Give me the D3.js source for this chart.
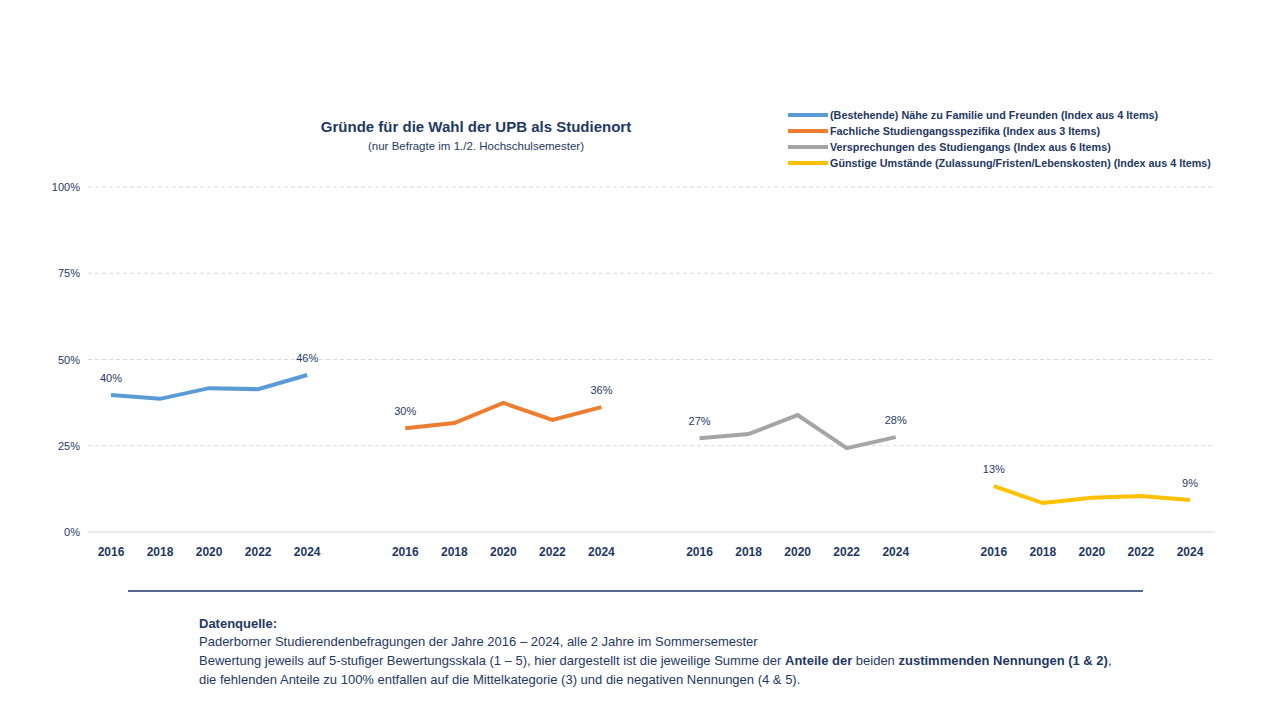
<!DOCTYPE html>
<html><head><meta charset="utf-8">
<script src="https://cdn.jsdelivr.net/npm/d3@7"></script>
<style>body{margin:0;background:#fff;font-family:"Liberation Sans",Arial,sans-serif}</style>
</head><body>
<svg id="chart" width="1273" height="717"></svg>
<script>
var years = ["2016", "2018", "2020", "2022", "2024"];
var seriesNames = [
  "(Bestehende) Nähe zu Familie und Freunden (Index aus 4 Items)",
  "Fachliche Studiengangsspezifika (Index aus 3 Items)",
  "Versprechungen des Studiengangs (Index aus 6  Items)",
  "Günstige Umstände (Zulassung/Fristen/Lebenskosten) (Index aus 4 Items)"
];
var colors = ["#5b9bd5", "#ed7d31", "#a5a5a5", "#ffc000"];
var naehe = [39.7, 38.6, 41.7, 41.4, 45.5];
var fachlich = [30.1, 31.6, 37.4, 32.5, 36.2];
var versprechen = [27.2, 28.4, 33.9, 24.3, 27.5];
var umstaende = [13.3, 8.4, 9.9, 10.4, 9.3];
var yTicks = [0, 25, 50, 75, 100];
var allSeries = [naehe, fachlich, versprechen, umstaende];

var navy = "#1f3864";
var svg = d3.select("#chart");

// 23 slots: 4 groups of 5 years with one empty slot between groups
var slots = [];
allSeries.forEach(function (s, g) {
  years.forEach(function (y) { slots.push(g + "-" + y); });
  if (g < 3) slots.push("gap" + g);
});
var x = d3.scalePoint().domain(slots).range([111, 1190]);
var y = d3.scaleLinear().domain([0, 100]).range([532, 187]);

// gridlines
svg.append("g").selectAll("line").data(yTicks.slice(1)).join("line")
  .attr("x1", 88).attr("x2", 1215).attr("y1", y).attr("y2", y)
  .attr("stroke", "#d9d9d9").attr("stroke-dasharray", "4,3");
svg.append("line").attr("x1", 88).attr("x2", 1215).attr("y1", y(0)).attr("y2", y(0))
  .attr("stroke", "#d9d9d9");
svg.append("g").selectAll("text").data(yTicks).join("text")
  .attr("x", 80).attr("y", function (d) { return y(d) + 4; })
  .attr("text-anchor", "end").attr("font-size", 11).attr("fill", navy)
  .text(function (d) { return d + "%"; });

// x labels
svg.append("g").selectAll("text").data(slots.filter(function (s) { return s.indexOf("gap") < 0; })).join("text")
  .attr("x", function (d) { return x(d); }).attr("y", 556)
  .attr("text-anchor", "middle").attr("font-size", 12).attr("font-weight", "bold").attr("fill", navy)
  .text(function (d) { return d.split("-")[1]; });

// lines
var line = d3.line().x(function (d) { return x(d.k); }).y(function (d) { return y(d.v); });
allSeries.forEach(function (s, g) {
  var pts = s.map(function (v, i) { return { k: g + "-" + years[i], v: v }; });
  svg.append("path").datum(pts).attr("d", line).attr("fill", "none")
    .attr("stroke", colors[g]).attr("stroke-width", 4);
  [pts[0], pts[4]].forEach(function (p) {
    svg.append("text").attr("x", x(p.k)).attr("y", y(p.v) - 13)
      .attr("text-anchor", "middle").attr("font-size", 11).attr("fill", navy)
      .text(Math.round(p.v) + "%");
  });
});

// title
svg.append("text").attr("x", 476).attr("y", 132).attr("text-anchor", "middle")
  .attr("font-size", 15).attr("font-weight", "bold").attr("fill", navy)
  .text("Gründe für die Wahl der UPB  als Studienort");
svg.append("text").attr("x", 476).attr("y", 150).attr("text-anchor", "middle")
  .attr("font-size", 11.5).attr("fill", navy).text("(nur Befragte im 1./2. Hochschulsemester)");

// legend
var lg = svg.append("g").selectAll("g").data(seriesNames).join("g")
  .attr("transform", function (d, i) { return "translate(788," + (115 + i * 16) + ")"; });
lg.append("line").attr("x1", 0).attr("x2", 40).attr("stroke", function (d, i) { return colors[i]; })
  .attr("stroke-width", 4);
lg.append("text").attr("x", 42).attr("y", 4).attr("font-size", 10.8).attr("font-weight", "bold")
  .attr("fill", navy).text(function (d) { return d; });

// separator + source
svg.append("line").attr("x1", 128).attr("x2", 1143).attr("y1", 591).attr("y2", 591)
  .attr("stroke", navy).attr("stroke-width", 1.5);
var src = svg.append("g").attr("font-size", 13).attr("fill", navy);
src.append("text").attr("x", 199).attr("y", 628).attr("font-weight", "bold").text("Datenquelle:");
src.append("text").attr("x", 199).attr("y", 646)
  .text("Paderborner Studierendenbefragungen der Jahre 2016 – 2024,  alle 2 Jahre im Sommersemester");
var t3 = src.append("text").attr("x", 199).attr("y", 665);
t3.append("tspan").text("Bewertung jeweils auf 5-stufiger Bewertungsskala (1 – 5), hier dargestellt ist die jeweilige Summe der ");
t3.append("tspan").attr("font-weight", "bold").text("Anteile der");
t3.append("tspan").text(" beiden ");
t3.append("tspan").attr("font-weight", "bold").text("zustimmenden Nennungen (1 & 2)");
t3.append("tspan").text(",");
src.append("text").attr("x", 199).attr("y", 684)
  .text("die fehlenden Anteile zu 100% entfallen auf die Mittelkategorie (3) und die negativen Nennungen (4 & 5).");
</script>
</body></html>
